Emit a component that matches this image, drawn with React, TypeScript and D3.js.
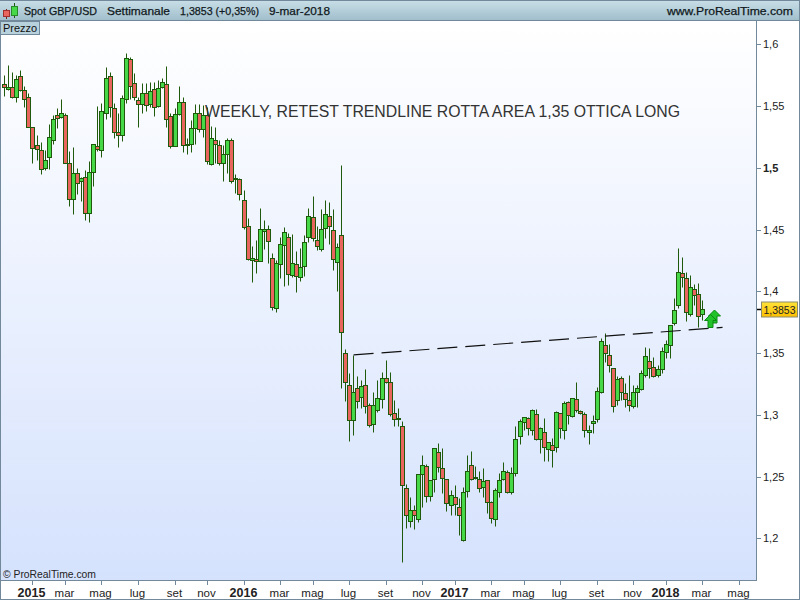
import React from "react";
import * as d3 from "d3";

const opens = [
  1.5676,1.5635,1.5652,1.5570,1.5741,1.5627,1.5570,1.5328,1.5182,1.5144,
  1.4995,1.5085,1.5222,1.5425,1.5409,1.5425,1.5036,1.4745,1.4955,1.4890,
  1.4923,1.4632,1.4963,1.5174,1.5144,1.5441,1.5741,1.5482,1.5287,1.5263,
  1.5557,1.5879,1.5684,1.5546,1.5519,1.5603,1.5514,1.5635,1.5498,1.5652,
  1.5676,1.5417,1.5174,1.5433,1.5530,1.5187,1.5190,1.5320,1.5441,1.5312,
  1.5425,1.5031,1.5222,1.5182,1.5036,1.5109,1.5222,1.4915,1.4907,1.4737,
  1.4527,1.4254,1.4265,1.4249,1.4486,1.4508,1.4267,1.3863,1.4219,1.4373,
  1.4438,1.4130,1.4219,1.4114,1.4203,1.4438,1.4599,1.4413,1.4340,1.4511,
  1.4607,1.4494,1.4235,1.4454,1.3498,1.3239,1.2955,1.3215,1.3142,1.3239,
  1.3077,1.2923,1.3036,1.3126,1.3296,1.3263,1.3012,1.2963,1.2906,1.2405,
  1.2138,1.2227,1.2154,1.2518,1.2583,1.2340,1.2477,1.2696,1.2567,1.2477,
  1.2267,1.2332,1.2251,1.1984,1.2381,1.2591,1.2494,1.2477,1.2413,1.2469,
  1.2291,1.2154,1.2373,1.2477,1.2535,1.2378,1.2526,1.2826,1.2939,1.2971,
  1.2875,1.3004,1.2801,1.2858,1.2720,1.2758,1.2737,1.3012,1.2875,1.3101,
  1.2988,1.3126,1.3028,1.3004,1.2858,1.2931,1.2963,1.3182,1.3563,1.3482,
  1.3377,1.3117,1.3296,1.3174,1.3117,1.3069,1.3182,1.3207,1.3320,1.3433,
  1.3385,1.3320,1.3369,1.3506,1.3563,1.3741,1.3887,1.4146,1.4105,1.3814,
  1.4017,1.3976,1.3814,
];
const highs = [
  1.5751,1.5832,1.5779,1.5751,1.5792,1.5665,1.5603,1.5333,1.5265,1.5212,
  1.5144,1.5355,1.5428,1.5482,1.5557,1.5441,1.5136,1.5166,1.4995,1.4928,
  1.4982,1.5055,1.5190,1.5501,1.5522,1.5819,1.5779,1.5522,1.5441,1.5589,
  1.5930,1.5900,1.5765,1.5576,1.5684,1.5684,1.5698,1.5698,1.5711,1.5725,
  1.5825,1.5441,1.5482,1.5663,1.5576,1.5239,1.5387,1.5514,1.5514,1.5509,
  1.5495,1.5339,1.5333,1.5225,1.5182,1.5239,1.5242,1.4947,1.4915,1.4821,
  1.4591,1.4370,1.4416,1.4673,1.4578,1.4538,1.4308,1.4254,1.4438,1.4518,
  1.4470,1.4465,1.4327,1.4351,1.4457,1.4673,1.4772,1.4529,1.4665,1.4737,
  1.4723,1.4665,1.4389,1.5023,1.3533,1.3336,1.3485,1.3314,1.3282,1.3371,
  1.3093,1.3185,1.3282,1.3350,1.3444,1.3344,1.3120,1.3052,1.2949,1.2437,
  1.2332,1.2270,1.2518,1.2675,1.2599,1.2472,1.2734,1.2769,1.2729,1.2477,
  1.2391,1.2431,1.2324,1.2418,1.2672,1.2704,1.2586,1.2545,1.2567,1.2472,
  1.2305,1.2405,1.2526,1.2618,1.2553,1.2580,1.2909,1.2963,1.2979,1.2985,
  1.3044,1.3047,1.2899,1.2971,1.2782,1.2809,1.3028,1.3017,1.3109,1.3115,
  1.3134,1.3266,1.3039,1.3023,1.2918,1.2998,1.3225,1.3620,1.3660,1.3574,
  1.3377,1.3314,1.3314,1.3255,1.3323,1.3242,1.3242,1.3363,1.3546,1.3538,
  1.3466,1.3404,1.3552,1.3606,1.3727,1.3943,1.4349,1.4275,1.4154,1.4133,
  1.4057,1.4065,1.3930,
];
const lows = [
  1.5581,1.5630,1.5562,1.5535,1.5625,1.5490,1.5328,1.5036,1.5063,1.4950,
  1.4982,1.4987,1.5193,1.5320,1.5401,1.5036,1.4691,1.4627,1.4787,1.4732,
  1.4578,1.4565,1.4852,1.5136,1.5085,1.5392,1.5414,1.5239,1.5171,1.5220,
  1.5522,1.5554,1.5549,1.5328,1.5447,1.5463,1.5490,1.5422,1.5490,1.5643,
  1.5333,1.5163,1.5174,1.5428,1.5131,1.5109,1.5131,1.5193,1.5293,1.5247,
  1.5031,1.5023,1.5036,1.5025,1.4893,1.4955,1.4874,1.4793,1.4740,1.4501,
  1.4254,1.4078,1.4146,1.4249,1.4343,1.4232,1.3849,1.3836,1.4108,1.4046,
  1.4051,1.4119,1.3997,1.4086,1.4124,1.4403,1.4411,1.4335,1.4329,1.4432,
  1.4383,1.4173,1.4005,1.3220,1.3115,1.2791,1.2837,1.3058,1.3052,1.3012,
  1.2899,1.2863,1.3025,1.3052,1.3255,1.2990,1.2909,1.2909,1.1811,1.2086,
  1.2088,1.2075,1.2135,1.2256,1.2297,1.2305,1.2378,1.2540,1.2369,1.2224,
  1.2189,1.2189,1.2027,1.1981,1.2337,1.2472,1.2477,1.2378,1.2337,1.2208,
  1.2127,1.2103,1.2332,1.2472,1.2364,1.2359,1.2508,1.2767,1.2877,1.2837,
  1.2837,1.2796,1.2688,1.2629,1.2629,1.2580,1.2701,1.2809,1.2804,1.2926,
  1.2979,1.3025,1.3007,1.2823,1.2767,1.2850,1.2944,1.3174,1.3431,1.3350,
  1.3025,1.3080,1.3120,1.3060,1.3033,1.3052,1.3060,1.3201,1.3309,1.3298,
  1.3304,1.3309,1.3336,1.3458,1.3458,1.3727,1.3863,1.4033,1.3763,1.3801,
  1.3890,1.3709,1.3768,
];
const closes = [
  1.5652,1.5652,1.5576,1.5716,1.5627,1.5554,1.5328,1.5157,1.5149,1.4987,
  1.5060,1.5247,1.5392,1.5401,1.5441,1.5036,1.4745,1.4955,1.4874,1.4915,
  1.4632,1.4963,1.5190,1.5152,1.5457,1.5725,1.5490,1.5293,1.5263,1.5562,
  1.5887,1.5663,1.5570,1.5514,1.5603,1.5506,1.5619,1.5490,1.5643,1.5692,
  1.5392,1.5174,1.5433,1.5530,1.5182,1.5190,1.5320,1.5441,1.5312,1.5425,
  1.5052,1.5239,1.5190,1.5036,1.5109,1.5222,1.4890,1.4909,1.4785,1.4518,
  1.4259,1.4267,1.4243,1.4502,1.4508,1.4405,1.3876,1.4227,1.4381,1.4478,
  1.4138,1.4227,1.4122,1.4195,1.4397,1.4607,1.4430,1.4365,1.4502,1.4624,
  1.4527,1.4259,1.4356,1.3668,1.3263,1.2955,1.3182,1.3109,1.3231,1.3069,
  1.2915,1.3077,1.3134,1.3296,1.3263,1.3004,1.2963,1.2971,1.2429,1.2186,
  1.2227,1.2186,1.2518,1.2591,1.2340,1.2469,1.2729,1.2575,1.2486,1.2283,
  1.2348,1.2275,1.2186,1.2373,1.2543,1.2477,1.2486,1.2405,1.2461,1.2291,
  1.2162,1.2389,1.2469,1.2543,1.2373,1.2526,1.2801,1.2947,1.2979,1.2891,
  1.3036,1.2801,1.2891,1.2737,1.2777,1.2712,1.3020,1.2891,1.3093,1.2996,
  1.3134,1.3036,1.3012,1.2875,1.2875,1.2947,1.3190,1.3595,1.3498,1.3401,
  1.3069,1.3288,1.3182,1.3126,1.3077,1.3182,1.3215,1.3336,1.3474,1.3377,
  1.3312,1.3369,1.3514,1.3571,1.3725,1.3846,1.4154,1.4114,1.3830,1.4033,
  1.3968,1.3798,1.3853,
];

const priceTicks = [1.6, 1.55, 1.5, 1.45, 1.4, 1.35, 1.3, 1.25, 1.2];
const boldPriceTicks = [1.5];
const lastPrice = 1.3853;
const monthLabels = ["2015","mar","mag","lug","set","nov","2016","mar","mag","lug","set","nov","2017","mar","mag","lug","set","nov","2018","mar","mag"];
const monthWeeks = [7,15,24,33,42,50,59,68,76,85,94,103,111,120,128,137,146,155,163,172,181];
const trendWeeks = [86, 176.9];
const trendPrices = [1.3485, 1.3708];
const title = "WEEKLY, RETEST TRENDLINE ROTTA AREA 1,35 OTTICA LONG";

const x = d3.scaleLinear().domain([0, 172]).range([4.55, 702.66]);
const y = d3.scaleLinear().domain([1.6, 1.2]).range([44.3, 538.3]);
const col = (i: number) => Math.floor(x(i)) + 0.5;
const row = (p: number) => Math.round(y(p)) + 0.5;
const fmt = (p: number) => String(p).replace(".", ",");
const FONT = "'Liberation Sans', Arial, sans-serif";
const AXIS = "#71899a";
const WICK = "#1f5a0c";
const UP = "#46d846";
const DOWN = "#e8665e";

const trendLine = d3.line<number>().x((d) => x(d)).y((_, i) => y(trendPrices[i]));

function arrowPath(cx: number, tip: number) {
  const p = d3.path();
  p.moveTo(cx, tip);
  p.lineTo(cx + 6, tip + 6);
  p.lineTo(cx + 2.5, tip + 6);
  p.lineTo(cx + 2.5, tip + 13);
  p.lineTo(cx - 2.5, tip + 13);
  p.lineTo(cx - 2.5, tip + 6);
  p.lineTo(cx - 6, tip + 6);
  p.closePath();
  return p.toString();
}

export default function App() {
  return (
    <svg width={800} height={600} style={{ position: "absolute", left: 0, top: 0, background: "#fff" }} fontFamily={FONT}>
      <defs>
        <linearGradient id="panel" x1="0" y1="0" x2="0" y2="1">
          <stop offset="0" stopColor="#ffffff" />
          <stop offset="1" stopColor="#d5e2fd" />
        </linearGradient>
        <linearGradient id="head" x1="0" y1="0" x2="0" y2="1">
          <stop offset="0" stopColor="#c9dfe8" />
          <stop offset="1" stopColor="#9fbdca" />
        </linearGradient>
        <linearGradient id="gold" x1="0" y1="0" x2="0" y2="1">
          <stop offset="0" stopColor="#ffe23a" />
          <stop offset="1" stopColor="#fdbf00" />
        </linearGradient>
      </defs>

      <rect x={1} y={21} width={755} height={560} fill="url(#panel)" />

      {/* candles */}
      {opens.map((o, i) => {
        const c = closes[i];
        const top = row(Math.max(o, c));
        const bottom = row(Math.min(o, c));
        return (
          <g key={i}>
            <line x1={col(i)} x2={col(i)} y1={row(highs[i])} y2={row(lows[i])} stroke={WICK} strokeWidth={1} />
            <rect x={col(i) - 2} y={top} width={4} height={Math.max(bottom - top, 1)} fill={c >= o ? UP : DOWN} stroke={WICK} strokeWidth={1} />
          </g>
        );
      })}

      {/* trendline */}
      <path d={trendLine(trendWeeks) ?? ""} fill="none" stroke="#111" strokeWidth={1.2} strokeDasharray="20 8" />

      {/* annotation arrows */}
      <path d={arrowPath(714.5, 310)} fill="#22c22a" stroke="#0a8a12" strokeWidth={1} />
      <path d={arrowPath(710.5, 314.5)} fill="#22c22a" stroke="#0a8a12" strokeWidth={1} />

      <text x={205} y={117} fontSize={16} fill="#333" textLength={475} lengthAdjust="spacingAndGlyphs">{title}</text>

      {/* header */}
      <rect x={0} y={0} width={800} height={21} fill="url(#head)" />
      <line x1={0} x2={800} y1={0.5} y2={0.5} stroke={AXIS} />
      <line x1={0} x2={800} y1={20.5} y2={20.5} stroke={AXIS} />
      <line x1={6.5} x2={6.5} y1={9} y2={19} stroke="#7a2020" />
      <rect x={3.5} y={10.5} width={6} height={6} fill={DOWN} stroke="#a03030" />
      <line x1={14.5} x2={14.5} y1={3} y2={18} stroke={WICK} />
      <rect x={11.5} y={6.5} width={6} height={9} fill={UP} stroke="#2a8a2a" />
      <g fontSize={11.5} fill="#101820" stroke="#101820" strokeWidth={0.25}>
        <text x={24} y={15} textLength={73} lengthAdjust="spacingAndGlyphs">Spot GBP/USD</text>
        <text x={107} y={15} textLength={63} lengthAdjust="spacingAndGlyphs">Settimanale</text>
        <text x={180} y={15} textLength={79} lengthAdjust="spacingAndGlyphs">1,3853 (+0,35%)</text>
        <text x={269} y={15} textLength={61} lengthAdjust="spacingAndGlyphs">9-mar-2018</text>
        <text x={667} y={15} textLength={126} lengthAdjust="spacingAndGlyphs">www.ProRealTime.com</text>
      </g>

      {/* Prezzo tab */}
      <rect x={0.5} y={21.5} width={39} height={13} fill="#b8d2dd" stroke={AXIS} />
      <text x={3} y={32} fontSize={11} fill="#111">Prezzo</text>

      {/* frame */}
      <line x1={0.5} x2={0.5} y1={21} y2={600} stroke={AXIS} />
      <line x1={756.5} x2={756.5} y1={21} y2={581} stroke={AXIS} />
      <line x1={0} x2={757} y1={580.5} y2={580.5} stroke={AXIS} />
      <line x1={0} x2={800} y1={599.5} y2={599.5} stroke={AXIS} />
      <line x1={799.5} x2={799.5} y1={0} y2={600} stroke={AXIS} />

      {/* price axis */}
      {priceTicks.map((p) => (
        <g key={p}>
          <line x1={757} x2={761} y1={row(p)} y2={row(p)} stroke={AXIS} />
          <text x={763} y={row(p) + 3.5} fontSize={11} fill="#222" fontWeight={boldPriceTicks.includes(p) ? 700 : 400}>{fmt(p)}</text>
        </g>
      ))}
      <line x1={757} x2={761} y1={row(lastPrice)} y2={row(lastPrice)} stroke="#000" strokeWidth={1.5} />
      <rect x={761.5} y={row(lastPrice) - 7.5} width={36} height={15} fill="url(#gold)" stroke="#8b8b70" />
      <text x={763.5} y={row(lastPrice) + 4} fontSize={11} fill="#222" textLength={32} lengthAdjust="spacingAndGlyphs">{fmt(lastPrice)}</text>

      {/* time axis */}
      {monthLabels.map((m, i) => {
        const big = /^\d/.test(m);
        return (
          <g key={i}>
            <line x1={col(monthWeeks[i])} x2={col(monthWeeks[i])} y1={581} y2={585} stroke={AXIS} />
            <text x={col(monthWeeks[i]) - 1} y={597} fontSize={big ? 12.5 : 11.5} fontWeight={big ? 700 : 400} textAnchor="middle" fill="#222">{m}</text>
          </g>
        );
      })}

      <text x={3} y={578} fontSize={10.5} fill="#222" textLength={93} lengthAdjust="spacingAndGlyphs">© ProRealTime.com</text>
    </svg>
  );
}
